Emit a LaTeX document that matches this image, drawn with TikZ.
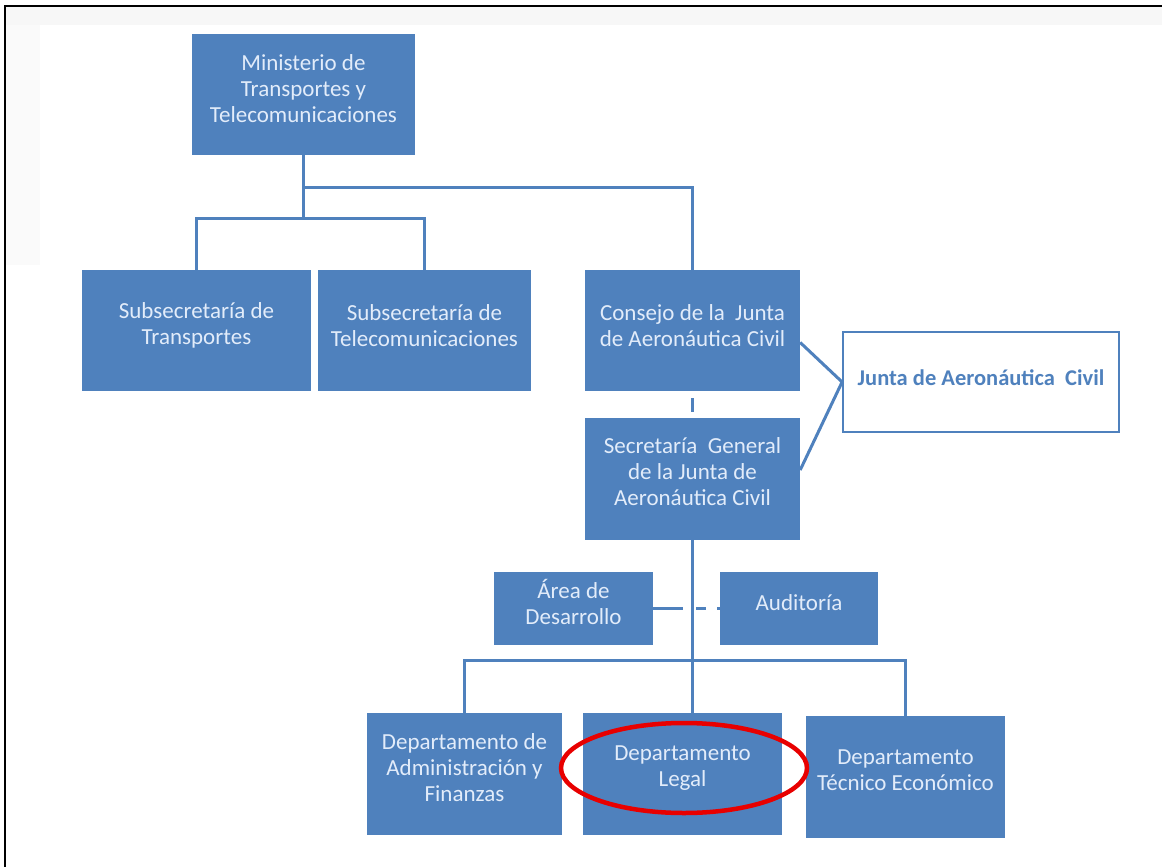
\documentclass[tikz,border=0pt]{standalone}
\usepackage{fontspec}
\setmainfont{Carlito}
\definecolor{boxblue}{RGB}{79,129,189}
\definecolor{txtpale}{RGB}{226,236,250}
\definecolor{ovalred}{RGB}{232,0,0}
\tikzset{
  bx/.style={draw=none, fill=boxblue, minimum width=#1, inner sep=0pt},
  tx/.style={text=txtpale, align=center, font=\fontsize{23}{26}\selectfont, inner sep=0pt},
  ln/.style={draw=boxblue, line width=3pt},
}
\begin{document}
\begin{tikzpicture}[x=1pt,y=-1pt]
\useasboundingbox (0,0) rectangle (1162,867);
\fill[white] (0,0) rectangle (1162,867);
\fill[black!3] (5,6) rectangle (1162,25);
\fill[black!2] (5,25) rectangle (40,265);
\draw[black, line width=2.5pt] (5,867) -- (5,6) -- (1162,6);

% boxes
\node[bx=223pt, minimum height=121pt] (min) at (303.5,94.5) {};
\node[bx=229pt, minimum height=121pt] (st) at (196.5,330.5) {};
\node[bx=213pt, minimum height=121pt] (stel) at (424.5,330.5) {};
\node[bx=215pt, minimum height=121pt] (cons) at (692.5,330.5) {};
\node[draw=boxblue, line width=1.8pt, fill=white, minimum width=276pt, minimum height=100pt, inner sep=0pt] (junta) at (981,382) {};
\node[bx=215pt, minimum height=122pt] (sec) at (692.5,479) {};
\node[bx=159pt, minimum height=73pt] (area) at (573.5,608.5) {};
\node[bx=158pt, minimum height=73pt] (aud) at (799,608.5) {};
\node[bx=195pt, minimum height=122pt] (adm) at (464.5,774) {};
\node[bx=199pt, minimum height=122pt] (leg) at (682.5,774) {};
\node[bx=199pt, minimum height=122pt] (tec) at (905.5,777) {};

% texts
\node[tx, yshift=6pt] (minT) at (min.center) {Ministerio de\\Transportes y\\Telecomunicaciones};
\node[tx, yshift=5pt] (stT) at (st.center) {Subsecretaría de\\Transportes};
\node[tx, yshift=5pt] (stelT) at (stel.center) {Subsecretaría de\\Telecomunicaciones};
\node[tx, yshift=5pt] (consT) at (cons.center) {Consejo de la\ \ Junta\\de Aeronáutica Civil};
\node[tx, text=boxblue, font=\fontsize{22.5}{26}\selectfont\bfseries, yshift=4pt] (juntaT) at (junta.center) {Junta de Aeronáutica\ \ Civil};
\node[tx, yshift=7pt] (secT) at (sec.center) {Secretaría\ \ General\\de la Junta de\\Aeronáutica Civil};
\node[tx, yshift=7pt] (areaT) at (area.center) {Área de\\Desarrollo};
\node[tx, yshift=6pt] (audT) at (aud.center) {Auditoría};
\node[tx, yshift=6pt] (admT) at (adm.center) {Departamento de\\Administración y\\Finanzas};
\node[tx, yshift=6pt] (legT) at (leg.center) {Departamento\\Legal};
\node[tx, yshift=7pt] (tecT) at (tec.center) {Departamento\\Técnico Económico};

% connectors
\coordinate (b1) at (303.5,218);
\coordinate (b2) at (303.5,187);
\coordinate (b3) at (692.5,660);
\draw[ln] (min.south) -- (b1);
\draw[ln] (st.north) |- (b1) -| (stel.north);
\draw[ln] (b2) -| (cons.north);
\draw[ln, shorten <=7pt, shorten >=6pt] (cons.south) -- (sec.north);
\draw[ln] ([yshift=-12pt]cons.east) -- (junta.west);
\draw[ln] ([yshift=9pt]sec.east) -- (junta.west);
\draw[ln] (sec.south) -- (sec.south |- leg.north);
\draw[ln] (adm.north) |- (b3) -| (tec.north);
\draw[ln, dash pattern=on 30pt off 13pt on 10pt off 11pt] (area.east) -- (aud.west);

% red highlight
\draw[ovalred, line width=4.5pt] (684,768) ellipse [x radius=123, y radius=45];
\end{tikzpicture}
\end{document}
